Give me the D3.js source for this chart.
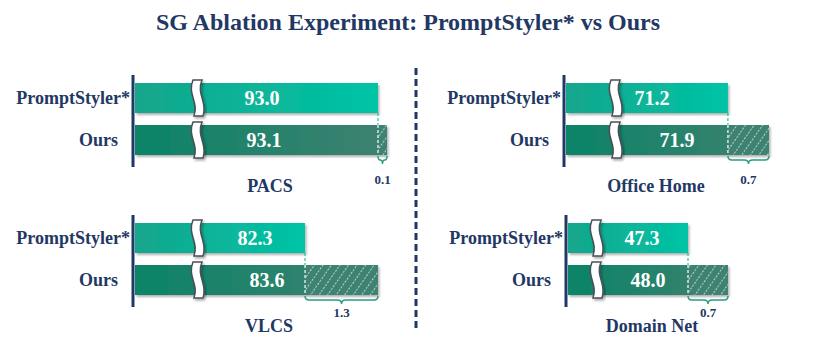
<!DOCTYPE html>
<html>
<head>
<meta charset="utf-8">
<script src="https://cdn.jsdelivr.net/npm/d3@7"></script>
<style>
  body { margin: 0; background: #fff; }
  text { font-family: "Liberation Serif", "Times New Roman", serif; font-weight: bold; }
</style>
</head>
<body>
<div class="container"></div>
<script>
// data
var datasets = ["PACS", "Office Home", "VLCS", "Domain Net"];
var methods = ["PromptStyler*", "Ours"];
var promptStyler = [93.0, 71.2, 82.3, 47.3];
var ours = [93.1, 71.9, 83.6, 48.0];
// value where each broken axis starts
var axisFloor = [90.3, 68.44, 79.27, 45.2];

var navy = "#1f3864";

// panel layout (pixels)
var layout = [
  {ax: 133, top: 83,  xEnd: 387, brk: 65, lblTop: 127, lblBot: 129, ttl: 137, gainDy: 28},
  {ax: 564, top: 83,  xEnd: 769, brk: 52, lblTop: 86,  lblBot: 111, ttl: 92,  gainDy: 28},
  {ax: 133, top: 223, xEnd: 378, brk: 65, lblTop: 120, lblBot: 132, ttl: 136, gainDy: 21},
  {ax: 566, top: 223, xEnd: 728, brk: 31, lblTop: 74,  lblBot: 80,  ttl: 86,  gainDy: 21}
];

var svg = d3.select('.container')
  .append('svg').attr('width', 830).attr('height', 350);

var defs = svg.append('defs');

var grad = function(id, c0, c1) {
  var g = defs.append('linearGradient').attr('id', id)
    .attr('x1', 0).attr('x2', 1).attr('y1', 0).attr('y2', 0);
  g.append('stop').attr('offset', '0%').attr('stop-color', c0);
  g.append('stop').attr('offset', '100%').attr('stop-color', c1);
};
grad('gTop', '#14a68c', '#00c4a6');
grad('gBot', '#0a8467', '#3f8171');

defs.append('filter').attr('id', 'shadow')
  .attr('x', '-10%').attr('y', '-30%').attr('width', '130%').attr('height', '170%')
  .append('feDropShadow')
  .attr('dx', 1.5).attr('dy', 2).attr('stdDeviation', 1.2)
  .attr('flood-color', '#000').attr('flood-opacity', 0.3);

var pat = defs.append('pattern').attr('id', 'hatch')
  .attr('patternUnits', 'userSpaceOnUse')
  .attr('width', 7).attr('height', 7)
  .attr('patternTransform', 'rotate(35)');
pat.append('rect').attr('width', 7).attr('height', 7).attr('fill', '#3e8272');
pat.append('line').attr('x1', 3.5).attr('x2', 3.5).attr('y1', 0).attr('y2', 7)
  .attr('stroke', '#fff').attr('stroke-opacity', 0.85)
  .attr('stroke-width', 0.8).attr('stroke-dasharray', '2,1.5');

// title
svg.append('text')
  .attr('x', 408).attr('y', 30)
  .attr('text-anchor', 'middle')
  .style('font-size', '24px')
  .style('fill', navy)
  .text('SG Ablation Experiment: PromptStyler* vs Ours');

// divider
svg.append('line')
  .attr('x1', 416).attr('x2', 416).attr('y1', 68).attr('y2', 332)
  .attr('stroke', navy).attr('stroke-width', 3)
  .attr('stroke-dasharray', '7,4');

var breakPath = function(cx, t, b) {
  var h = b - t, w = 9;
  var p0 = [cx - 5, t], c1 = [cx - 11, t + 0.4 * h], c2 = [cx + 1, t + 0.6 * h], p3 = [cx - 4, b];
  return 'M' + p0 + 'C' + c1 + ' ' + c2 + ' ' + p3 +
    'L' + [p3[0] + w, p3[1]] +
    'C' + [c2[0] + w, c2[1]] + ' ' + [c1[0] + w, c1[1]] + ' ' + [p0[0] + w, p0[1]] + 'Z';
};

var bracePath = function(x1, x2, y0) {
  var cx = (x1 + x2) / 2, r = Math.min(4, (x2 - x1) / 4), y1 = y0 + 4;
  return 'M' + [x1, y0] + 'Q' + [x1, y1] + ' ' + [x1 + r, y1] +
    'L' + [cx - r, y1] + 'Q' + [cx, y1] + ' ' + [cx, y1 + 4] +
    'Q' + [cx, y1] + ' ' + [cx + r, y1] +
    'L' + [x2 - r, y1] + 'Q' + [x2, y1] + ' ' + [x2, y0];
};

datasets.forEach(function(name, i) {
  var L = layout[i];
  var x0 = L.ax + 2;
  var x = d3.scaleLinear().domain([axisFloor[i], ours[i]]).range([x0, L.xEnd]);
  var y = d3.scaleBand().domain(methods).range([L.top, L.top + 72]).paddingInner(0.2857);
  var g = svg.append('g');

  var vals = [promptStyler[i], ours[i]];
  var yP = y(methods[0]), yO = y(methods[1]), bh = y.bandwidth();

  // PromptStyler* bar
  g.append('rect')
    .attr('x', x0).attr('y', yP)
    .attr('width', x(vals[0]) - x0).attr('height', bh)
    .attr('fill', 'url(#gTop)').attr('filter', 'url(#shadow)');

  // Ours bar: solid part + hatched gain
  g.append('rect')
    .attr('x', x0).attr('y', yO)
    .attr('width', x(vals[1]) - x0).attr('height', bh)
    .attr('fill', 'url(#gBot)').attr('filter', 'url(#shadow)');
  g.append('rect')
    .attr('x', x(vals[0])).attr('y', yO)
    .attr('width', x(vals[1]) - x(vals[0])).attr('height', bh)
    .attr('fill', 'url(#hatch)');
  g.append('line')
    .attr('x1', x(vals[0])).attr('x2', x(vals[0]))
    .attr('y1', yO).attr('y2', yO + bh)
    .attr('stroke', '#fff').attr('stroke-width', 1.2).attr('stroke-dasharray', '3,2');
  g.append('line')
    .attr('x1', x(vals[0])).attr('x2', x(vals[0]))
    .attr('y1', yP + bh).attr('y2', yO)
    .attr('stroke', '#1fc3a3').attr('stroke-width', 1.2).attr('stroke-dasharray', '3,2');

  // axis breaks
  [yP, yO].forEach(function(yy) {
    g.append('path')
      .attr('d', breakPath(L.ax + L.brk, yy - 3, yy + bh + 3))
      .attr('fill', '#fff').attr('stroke', '#4a4f5a').attr('stroke-width', 1.5)
      .attr('filter', 'url(#shadow)');
  });

  // value labels
  g.append('text')
    .attr('x', x0 + L.lblTop).attr('y', yP + bh / 2).attr('dy', '0.35em')
    .attr('text-anchor', 'middle').style('font-size', '20px').style('fill', '#fff')
    .text(vals[0].toFixed(1));
  g.append('text')
    .attr('x', x0 + L.lblBot).attr('y', yO + bh / 2).attr('dy', '0.35em')
    .attr('text-anchor', 'middle').style('font-size', '20px').style('fill', '#fff')
    .text(vals[1].toFixed(1));

  // axis line
  g.append('line')
    .attr('x1', L.ax).attr('x2', L.ax)
    .attr('y1', L.top - 8).attr('y2', L.top + 84)
    .attr('stroke', navy).attr('stroke-width', 3);

  // method labels
  g.append('text')
    .attr('x', L.ax - 3).attr('y', yP + bh / 2).attr('dy', '0.35em')
    .attr('text-anchor', 'end').style('font-size', '18px').style('fill', navy)
    .text(methods[0]);
  g.append('text')
    .attr('x', L.ax - 15).attr('y', yO + bh / 2).attr('dy', '0.35em')
    .attr('text-anchor', 'end').style('font-size', '18px').style('fill', navy)
    .text(methods[1]);

  // gain brace + label
  var bBot = yO + bh + 1;
  g.append('path')
    .attr('d', bracePath(x(vals[0]), x(vals[1]), bBot))
    .attr('fill', 'none').attr('stroke', '#2a9c82').attr('stroke-width', 1.5);
  g.append('text')
    .attr('x', (x(vals[0]) + x(vals[1])) / 2).attr('y', bBot + L.gainDy)
    .attr('text-anchor', 'middle').style('font-size', '13px').style('fill', navy)
    .text((vals[1] - vals[0]).toFixed(1));

  // dataset title
  g.append('text')
    .attr('x', L.ax + L.ttl).attr('y', L.top + 109)
    .attr('text-anchor', 'middle').style('font-size', '18px').style('fill', navy)
    .text(name);
});
</script>
</body>
</html>
